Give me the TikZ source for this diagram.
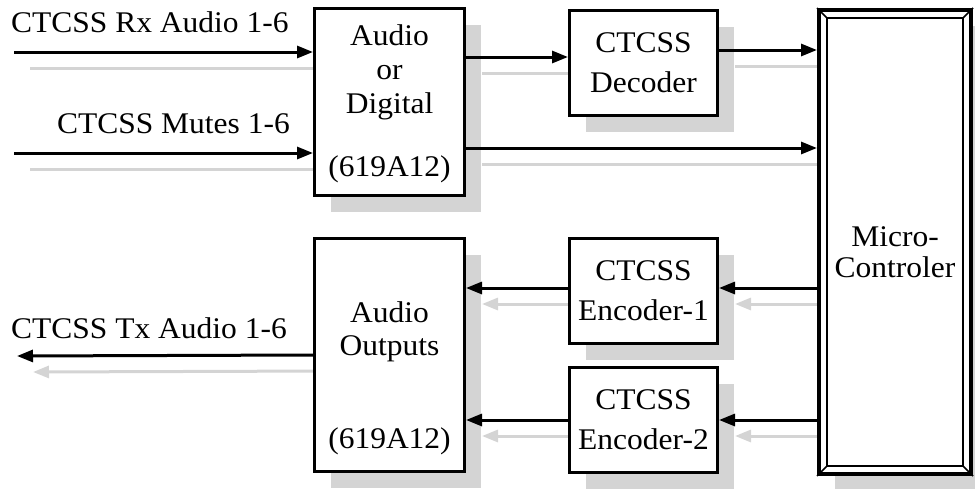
\documentclass[tikz,border=0pt]{standalone}
\usepackage{fontspec}
\setmainfont{Liberation Serif}[FakeStretch=1.05]
\usepackage{tikz}
\usetikzlibrary{arrows.meta,positioning,shadows,backgrounds}
\definecolor{shadowgray}{RGB}{212,212,212}

\begin{document}
\begin{tikzpicture}[
    x=1pt, y=-1pt,
    every node/.style={font=\fontsize{30}{34}\selectfont, inner sep=0pt},
    box/.style={
      draw, line width=3pt, fill=white,
      drop shadow={shadow xshift=16pt, shadow yshift=-16pt,
        fill=shadowgray, opacity=1}
    },
    unit/.style={box, minimum width=150pt},
    coder/.style={
      box, align=center,
      minimum width=148pt, minimum height=105pt,
      font=\fontsize{30}{40}\selectfont
    },
    mcu/.style={box, line width=4pt, minimum width=152pt, minimum height=464pt},
    arrow/.style={-{Triangle[length=16pt,width=12pt]}, line width=3pt},
    ghost/.style={arrow, shadowgray, transform canvas={xshift=16pt, yshift=-16pt}}
  ]

    \useasboundingbox (0,0) rectangle (975,488);

    \node[unit, minimum height=187pt] (mux) at (389.5,102) {};
    \node[coder] (decoder) at (643.5,63) {CTCSS\\Decoder};
    \node[mcu] (micro) at (895,242) {};
    \node[unit, minimum height=233pt] (outputs) at (389.5,355) {};
    \node[coder] (enc1) at (643.5,291) {CTCSS\\Encoder-1};
    \node[coder, below=21pt of enc1] (enc2) {CTCSS\\Encoder-2};

    \draw[line width=2pt] ([shift={(10pt,-10pt)}]micro.north west)
      rectangle ([shift={(-10pt,10pt)}]micro.south east);
    \foreach \corner/\dx/\dy in {north west/1/-1, north east/-1/-1,
                                 south west/1/1, south east/-1/1}
      \draw[line width=1.5pt] (micro.\corner) -- ([shift={(\dx*10pt,\dy*10pt)}]micro.\corner);

    \node[align=center] (muxtext) at ([yshift=30pt]mux.center) {Audio\\or\\Digital};
    \node[anchor=base] (muxcode) at ([yshift=21pt]mux.south) {(619A12)};
    \node[align=center, font=\fontsize{30}{33}\selectfont] (outtext)
      at ([yshift=23.5pt]outputs.center) {Audio\\Outputs};
    \node[anchor=base] (outcode) at ([yshift=25pt]outputs.south) {(619A12)};
    \node[align=center, font=\fontsize{30}{31}\selectfont] (microtext)
      at ([yshift=-10pt]micro.center) {Micro-\\Controler};

    \node[anchor=base west] (rxlabel) at (11,32) {CTCSS Rx Audio 1-6};
    \node[anchor=base east] (mutelabel) at (290,133) {CTCSS Mutes 1-6};
    \node[anchor=base west] (txlabel) at (11,338) {CTCSS Tx Audio 1-6};

    \coordinate (rxin)    at (14,52);
    \coordinate (mutein)  at (14,153);
    \coordinate (txout)   at (17,356);
    \coordinate (rxend)   at (rxin -| mux.west);
    \coordinate (muteend) at (mutein -| mux.west);
    \coordinate (decin)   at ([yshift=6pt]decoder.west);
    \coordinate (muxdec)  at (decin -| mux.east);
    \coordinate (decout)  at ([yshift=13pt]decoder.east);
    \coordinate (decmcu)  at (decout -| micro.west);
    \coordinate (muxout)  at ([yshift=-46pt]mux.east);
    \coordinate (muxmcu)  at (muxout -| micro.west);
    \coordinate (enc1in)  at ([yshift=3pt]enc1.east);
    \coordinate (mcuenc1) at (enc1in -| micro.west);
    \coordinate (enc1out) at ([yshift=3pt]enc1.west);
    \coordinate (outin1)  at (enc1out -| outputs.east);
    \coordinate (mcuenc2) at (enc2.east -| micro.west);
    \coordinate (outin2)  at (enc2.west -| outputs.east);

    \begin{pgfonlayer}{background}
      \foreach \a/\b in {rxin/rxend, mutein/muteend, muxdec/decin, decout/decmcu,
                         muxout/muxmcu, mcuenc1/enc1in, enc1out/outin1,
                         mcuenc2/enc2.east, enc2.west/outin2, outputs.west/txout}
        \draw[ghost] (\a) -- (\b);
    \end{pgfonlayer}

    \foreach \a/\b in {rxin/rxend, mutein/muteend, muxdec/decin, decout/decmcu,
                       muxout/muxmcu, mcuenc1/enc1in, enc1out/outin1,
                       mcuenc2/enc2.east, enc2.west/outin2, outputs.west/txout}
      \draw[arrow] (\a) -- (\b);

  \end{tikzpicture}
\end{document}
